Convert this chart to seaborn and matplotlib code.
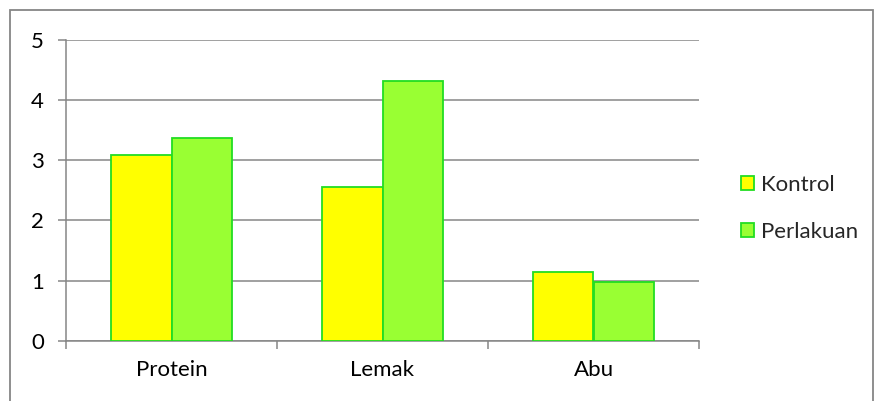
import matplotlib
matplotlib.use("Agg")
import matplotlib.pyplot as plt
import seaborn as sns
import pandas as pd
from matplotlib.patches import Rectangle
from matplotlib.ticker import FixedLocator

categories = ["Protein", "Lemak", "Abu"]
kontrol = [3.08, 2.55, 1.14]
perlakuan = [3.37, 4.31, 0.98]
series_names = ["Kontrol", "Perlakuan"]
y_ticks = [0, 1, 2, 3, 4, 5]

df = pd.DataFrame({
    "kategori": categories * 2,
    "nilai": kontrol + perlakuan,
    "seri": [series_names[0]] * 3 + [series_names[1]] * 3,
})

sns.set_theme(style="white")
plt.rcParams["font.family"] = ["Lato", "DejaVu Sans"]

W, H = 874, 401
fig = plt.figure(figsize=(W / 100, H / 100), dpi=100)
ax = fig.add_axes([66 / W, (H - 341) / H, (699 - 66) / W, (341 - 39.5) / H])

grid_c = "#868686"
edge_c = "#22DD22"
palette = {"Kontrol": "#FFFF00", "Perlakuan": "#99FF33"}
fs = 16

sns.barplot(data=df, x="kategori", y="nilai", hue="seri", order=categories,
            hue_order=series_names, palette=palette, width=0.573,
            edgecolor=edge_c, linewidth=1.3, saturation=1, ax=ax, zorder=3)

ax.set_ylim(0, 5)
ax.set_xlim(-0.5, 2.5)
ax.set_yticks(y_ticks)
ax.set_yticklabels([str(t) for t in y_ticks], fontsize=fs, color="black")
ax.yaxis.grid(True, color=grid_c, linewidth=1.1)
ax.set_axisbelow(True)
ax.set_xlabel("")
ax.set_ylabel("")

ax.set_xticks(range(len(categories)))
ax.set_xticklabels(categories, fontsize=fs, color="black")
ax.tick_params(axis="x", which="major", length=0, pad=14)
ax.xaxis.set_minor_locator(FixedLocator([-0.5, 0.5, 1.5, 2.5]))
ax.tick_params(axis="x", which="minor", length=6, width=1.1, color=grid_c,
               direction="out", bottom=True)
ax.tick_params(axis="y", length=6, width=1.1, color=grid_c, direction="out",
               left=True, pad=10)

for side in ["top", "right"]:
    ax.spines[side].set_visible(False)
for side in ["left", "bottom"]:
    ax.spines[side].set_color(grid_c)
    ax.spines[side].set_linewidth(1.1)

leg = ax.legend(loc="center left", bbox_to_anchor=(1.052, 0.44), frameon=False,
                fontsize=fs, handlelength=0.6, handleheight=0.6,
                handletextpad=0.3, labelspacing=1.2, borderaxespad=0)
for h in leg.legend_handles:
    h.set_edgecolor(edge_c)
    h.set_linewidth(1.3)

# outer chart frame
fig.patches.append(Rectangle((10 / W, -0.05), (873 - 10) / W, (H - 10) / H + 0.05,
                             transform=fig.transFigure, fill=False,
                             edgecolor=grid_c, linewidth=1.3))

fig.savefig("out.png", dpi=100)
